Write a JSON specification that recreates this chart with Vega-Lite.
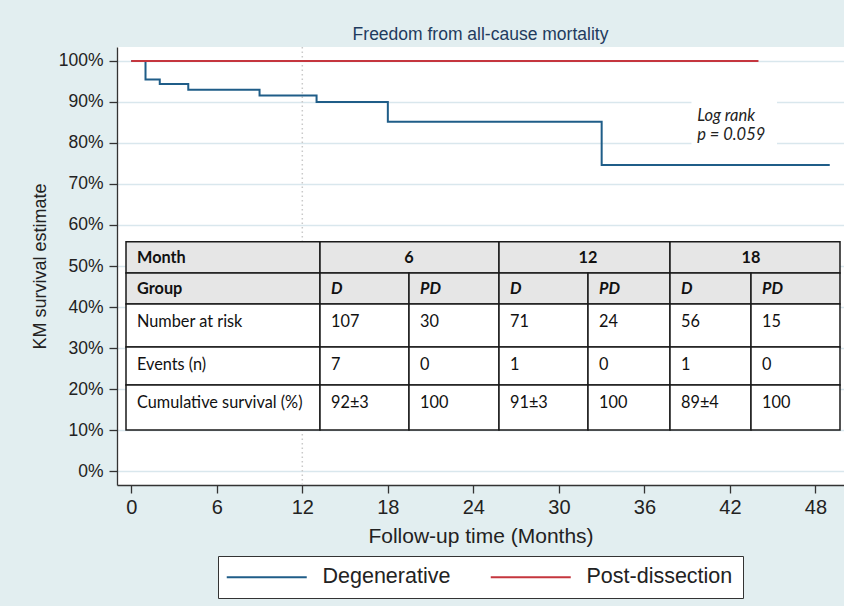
{
  "$schema": "https://vega.github.io/schema/vega-lite/v6.json",
  "width": 727,
  "height": 438,
  "autosize": {"type": "none"},
  "padding": {"left": 117, "top": 47, "right": 0, "bottom": 121},
  "background": "#e2eef0",
  "title": {
    "text": "Freedom from all-cause mortality",
    "font": "Liberation Sans",
    "fontSize": 17.5,
    "fontWeight": "normal",
    "color": "#1f3b5e",
    "anchor": "middle",
    "offset": 3
  },
  "config": {
    "view": {"fill": "white", "stroke": null},
    "font": "Liberation Sans"
  },
  "layer": [
    {
      "layer": [
        {
          "data": {"values": [{}]},
          "mark": {"type": "rule", "color": "#c9c9c9", "strokeWidth": 1.5, "strokeDash": [1.5, 3]},
          "encoding": {"x": {"datum": 12, "type": "quantitative"}}
        },
        {
          "data": {
            "values": [
              {"group": "Degenerative", "month": 0, "surv": 100},
              {"group": "Degenerative", "month": 1, "surv": 95.5},
              {"group": "Degenerative", "month": 2, "surv": 94.4},
              {"group": "Degenerative", "month": 4, "surv": 93.0},
              {"group": "Degenerative", "month": 9, "surv": 91.6},
              {"group": "Degenerative", "month": 13, "surv": 90.0},
              {"group": "Degenerative", "month": 18, "surv": 85.2},
              {"group": "Degenerative", "month": 33, "surv": 74.6},
              {"group": "Degenerative", "month": 49, "surv": 74.6},
              {"group": "Post-dissection", "month": 0, "surv": 100},
              {"group": "Post-dissection", "month": 44, "surv": 100}
            ]
          },
          "mark": {"type": "line", "interpolate": "step-after", "strokeWidth": 2},
          "encoding": {
            "x": {
              "field": "month",
              "type": "quantitative",
              "scale": {"domain": [-1, 50], "nice": false, "zero": false},
              "axis": {
                "values": [0, 6, 12, 18, 24, 30, 36, 42, 48],
                "grid": false,
                "title": "Follow-up time (Months)",
                "titleFont": "Liberation Sans",
                "titleFontSize": 21,
                "titleFontWeight": "normal",
                "titleColor": "#222",
                "titlePadding": 8,
                "labelFont": "Liberation Sans",
                "labelFontSize": 20,
                "labelColor": "#222",
                "labelPadding": 4,
                "tickSize": 8,
                "tickColor": "#333",
                "tickWidth": 1.3,
                "domainColor": "#333",
                "domainWidth": 1.3
              }
            },
            "y": {
              "field": "surv",
              "type": "quantitative",
              "scale": {"domain": [-3.4, 103.4], "nice": false, "zero": false},
              "axis": {
                "values": [0, 10, 20, 30, 40, 50, 60, 70, 80, 90, 100],
                "labelExpr": "datum.value + '%'",
                "grid": true,
                "gridColor": "#d9e7ed",
                "gridWidth": 1.5,
                "title": "KM survival estimate",
                "titleFont": "Liberation Sans",
                "titleFontSize": 18,
                "titleFontWeight": "normal",
                "titleColor": "#222",
                "titlePadding": 9,
                "labelFont": "Liberation Sans",
                "labelFontSize": 17.5,
                "labelColor": "#222",
                "labelPadding": 6,
                "tickSize": 8,
                "tickColor": "#333",
                "tickWidth": 1.3,
                "domainColor": "#333",
                "domainWidth": 1.3
              }
            },
            "color": {
              "field": "group",
              "type": "nominal",
              "scale": {"domain": ["Degenerative", "Post-dissection"], "range": ["#1f5d88", "#c5363e"]},
              "legend": {
                "title": null,
                "orient": "none",
                "legendX": 101,
                "legendY": 509,
                "direction": "horizontal",
                "symbolType": "M-8,0H8",
                "symbolSize": 100,
                "symbolOffset": 28,
                "symbolStrokeWidth": 2,
                "labelFont": "Liberation Sans",
                "labelFontSize": 21.5,
                "labelColor": "#222",
                "labelOffset": 45,
                "columnPadding": 35,
                "padding": 10,
                "strokeColor": "#333",
                "fillColor": "white",
                "cornerRadius": 0
              }
            }
          }
        },
        {
          "data": {"values": [{}]},
          "mark": {"type": "rect", "fill": "white"},
          "encoding": {
            "x": {"datum": 39.3, "type": "quantitative"},
            "x2": {"datum": 45.3},
            "y": {"datum": 91, "type": "quantitative"},
            "y2": {"datum": 77.6}
          }
        },
        {
          "data": {"values": [{}]},
          "mark": {
            "type": "text",
            "text": ["Log rank", "p = 0.059"],
            "font": "Lato",
            "fontStyle": "italic",
            "fontSize": 16.5,
            "lineHeight": 18.5,
            "align": "left",
            "baseline": "middle",
            "color": "#222"
          },
          "encoding": {
            "x": {"datum": 39.7, "type": "quantitative"},
            "y": {"datum": 86.5, "type": "quantitative"}
          }
        }
      ]
    },
    {
      "data": {
        "values": [
          {"r0": 0, "r1": 1, "c0": 0, "c1": 1, "t": "Month"},
          {"r0": 0, "r1": 1, "c0": 1, "c1": 3, "cm": 2, "t": "6"},
          {"r0": 0, "r1": 1, "c0": 3, "c1": 5, "cm": 4, "t": "12"},
          {"r0": 0, "r1": 1, "c0": 5, "c1": 7, "cm": 6, "t": "18"},
          {"r0": 1, "r1": 2, "c0": 0, "c1": 1, "t": "Group"},
          {"r0": 1, "r1": 2, "c0": 1, "c1": 2, "t": "D"},
          {"r0": 1, "r1": 2, "c0": 2, "c1": 3, "t": "PD"},
          {"r0": 1, "r1": 2, "c0": 3, "c1": 4, "t": "D"},
          {"r0": 1, "r1": 2, "c0": 4, "c1": 5, "t": "PD"},
          {"r0": 1, "r1": 2, "c0": 5, "c1": 6, "t": "D"},
          {"r0": 1, "r1": 2, "c0": 6, "c1": 7, "t": "PD"},
          {"r0": 2, "r1": 3, "c0": 0, "c1": 1, "t": "Number at risk"},
          {"r0": 2, "r1": 3, "c0": 1, "c1": 2, "t": "107"},
          {"r0": 2, "r1": 3, "c0": 2, "c1": 3, "t": "30"},
          {"r0": 2, "r1": 3, "c0": 3, "c1": 4, "t": "71"},
          {"r0": 2, "r1": 3, "c0": 4, "c1": 5, "t": "24"},
          {"r0": 2, "r1": 3, "c0": 5, "c1": 6, "t": "56"},
          {"r0": 2, "r1": 3, "c0": 6, "c1": 7, "t": "15"},
          {"r0": 3, "r1": 4, "c0": 0, "c1": 1, "t": "Events (n)"},
          {"r0": 3, "r1": 4, "c0": 1, "c1": 2, "t": "7"},
          {"r0": 3, "r1": 4, "c0": 2, "c1": 3, "t": "0"},
          {"r0": 3, "r1": 4, "c0": 3, "c1": 4, "t": "1"},
          {"r0": 3, "r1": 4, "c0": 4, "c1": 5, "t": "0"},
          {"r0": 3, "r1": 4, "c0": 5, "c1": 6, "t": "1"},
          {"r0": 3, "r1": 4, "c0": 6, "c1": 7, "t": "0"},
          {"r0": 4, "r1": 5, "c0": 0, "c1": 1, "t": "Cumulative survival (%)"},
          {"r0": 4, "r1": 5, "c0": 1, "c1": 2, "t": "92±3"},
          {"r0": 4, "r1": 5, "c0": 2, "c1": 3, "t": "100"},
          {"r0": 4, "r1": 5, "c0": 3, "c1": 4, "t": "91±3"},
          {"r0": 4, "r1": 5, "c0": 4, "c1": 5, "t": "100"},
          {"r0": 4, "r1": 5, "c0": 5, "c1": 6, "t": "89±4"},
          {"r0": 4, "r1": 5, "c0": 6, "c1": 7, "t": "100"}
        ]
      },
      "encoding": {
        "y": {
          "field": "r0",
          "type": "quantitative",
          "scale": {"domain": [0, 1, 2, 3, 4, 5], "range": [194.7, 226, 257, 300, 338, 383], "nice": false, "zero": false},
          "axis": null
        }
      },
      "layer": [
        {
          "mark": {"type": "rect", "stroke": "#1a1a1a", "strokeWidth": 1.5},
          "encoding": {
            "x": {
              "field": "c0",
              "type": "quantitative",
              "scale": {"domain": [0, 1, 2, 3, 4, 5, 6, 7], "range": [9, 203, 292, 382, 471, 553, 634, 723], "nice": false, "zero": false},
              "axis": null
            },
            "x2": {"field": "c1"},
            "y2": {"field": "r1"},
            "fill": {
              "condition": {"test": "datum.r0 < 2", "value": "#e6e6e6"},
              "value": "white"
            }
          }
        },
        {
          "transform": [{"filter": "datum.r0 == 0 && datum.c0 > 0"}],
          "mark": {"type": "text", "font": "Lato", "fontSize": 16.3, "fontWeight": "bold", "align": "center", "baseline": "middle", "dy": 16, "color": "#111"},
          "encoding": {
            "x": {"field": "cm", "type": "quantitative"},
            "text": {"field": "t"}
          }
        },
        {
          "transform": [{"filter": "datum.r0 < 2 && datum.c0 == 0"}],
          "mark": {"type": "text", "font": "Lato", "fontSize": 16.3, "fontWeight": "bold", "align": "left", "baseline": "middle", "dx": 11, "dy": 16, "color": "#111"},
          "encoding": {
            "x": {"field": "c0", "type": "quantitative"},
            "text": {"field": "t"}
          }
        },
        {
          "transform": [{"filter": "datum.r0 == 1 && datum.c0 > 0"}],
          "mark": {"type": "text", "font": "Lato", "fontSize": 16.3, "fontWeight": "bold", "fontStyle": "italic", "align": "left", "baseline": "middle", "dx": 11, "dy": 16, "color": "#111"},
          "encoding": {
            "x": {"field": "c0", "type": "quantitative"},
            "text": {"field": "t"}
          }
        },
        {
          "transform": [{"filter": "datum.r0 >= 2"}],
          "mark": {"type": "text", "font": "Lato", "fontSize": 16.3, "align": "left", "baseline": "middle", "dx": 11, "dy": 18, "color": "#111"},
          "encoding": {
            "x": {"field": "c0", "type": "quantitative"},
            "text": {"field": "t"}
          }
        }
      ]
    }
  ],
  "resolve": {"scale": {"x": "independent", "y": "independent"}}
}
